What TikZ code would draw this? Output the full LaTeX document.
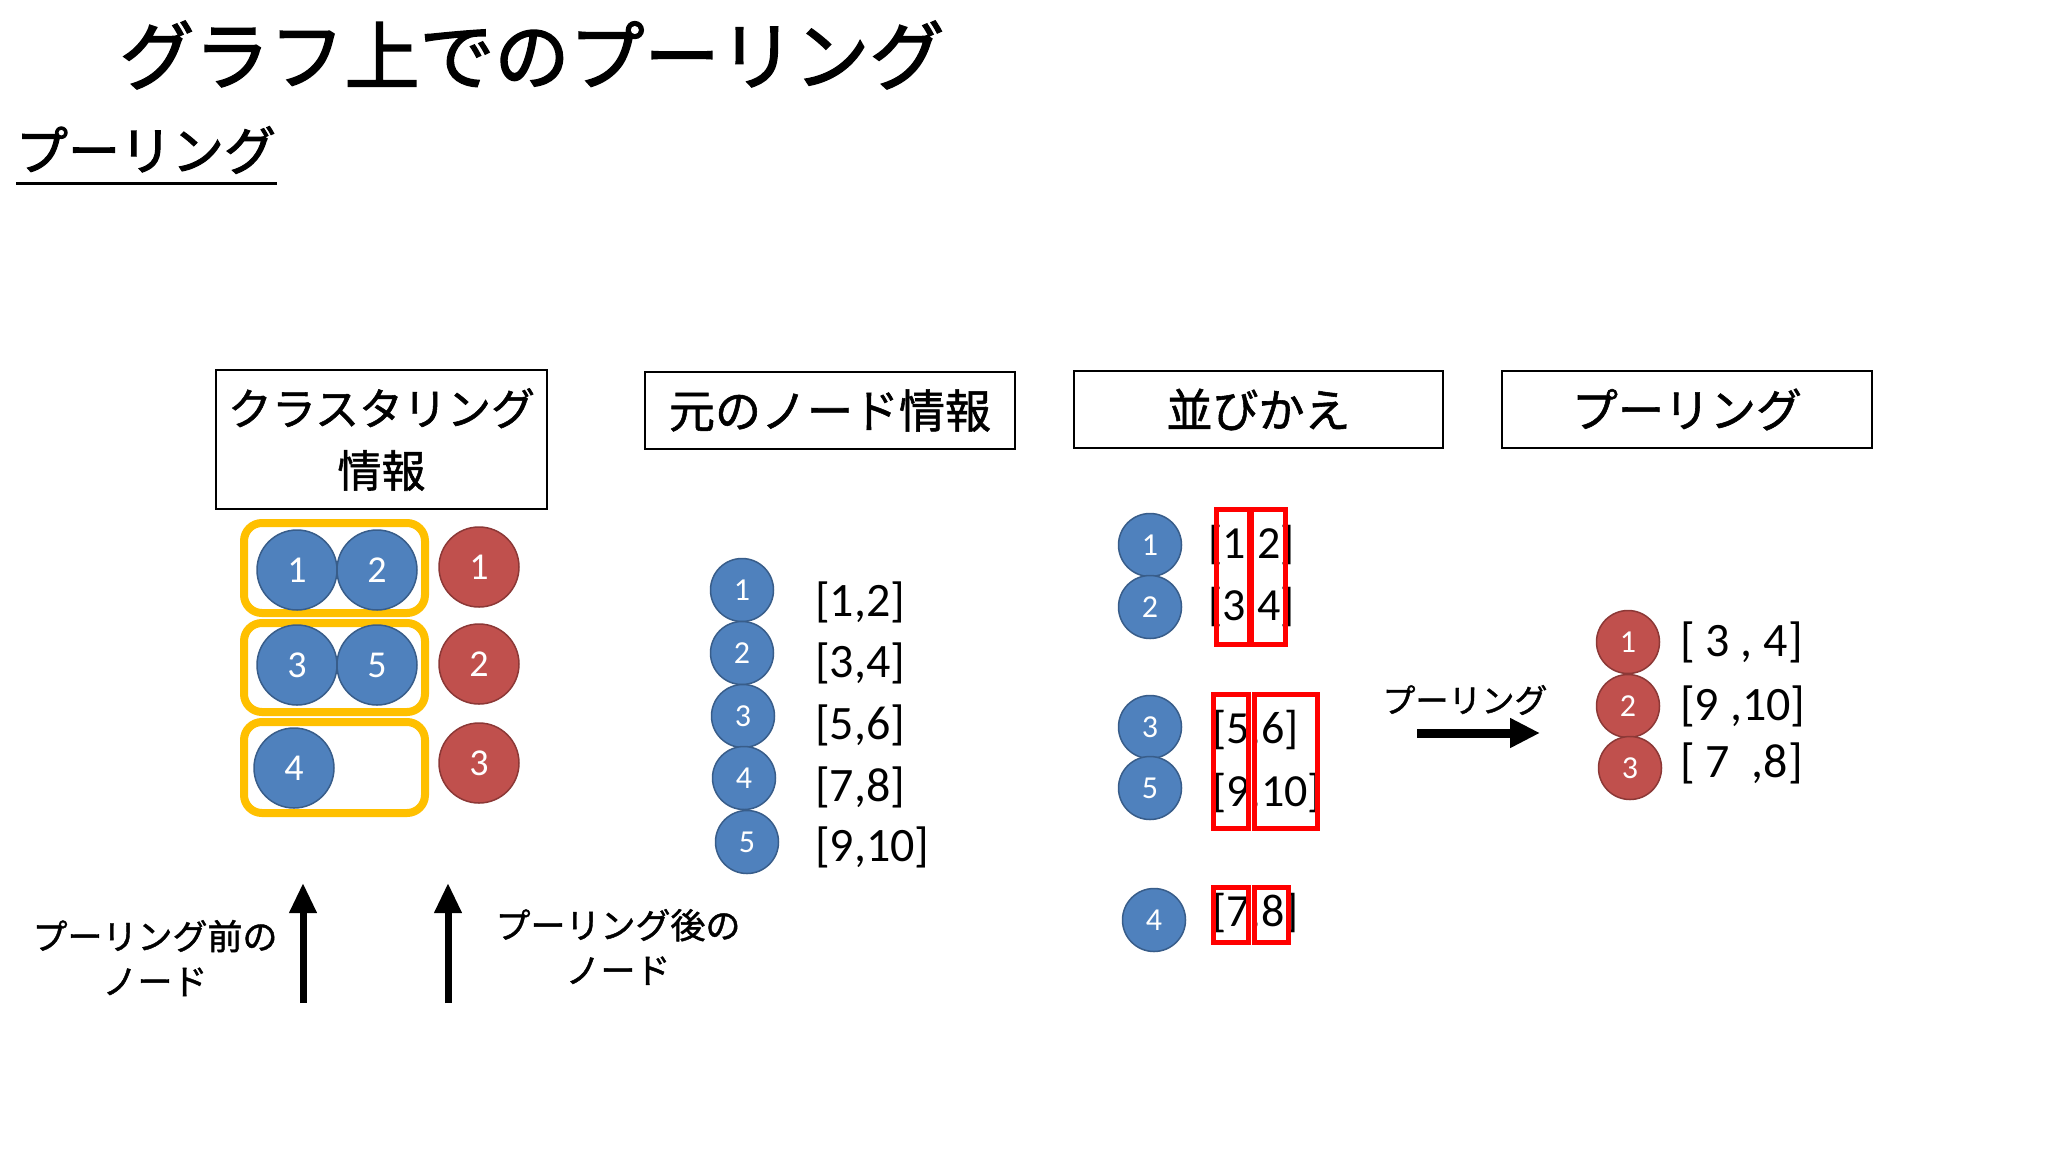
\documentclass[tikz,border=0pt]{standalone}
\usepackage{fontspec}
\newfontfamily\jp[FakeBold=1.2]{Noto Sans CJK JP}
\newfontfamily\jpt[FakeBold=2]{Noto Sans CJK JP}
\newfontfamily\num{Carlito}
\usetikzlibrary{arrows.meta}
\definecolor{nodeblue}{HTML}{4F81BD}
\definecolor{blueedge}{HTML}{385D8A}
\definecolor{nodered}{HTML}{C0504D}
\definecolor{rededge}{HTML}{8C3836}
\definecolor{clusterorange}{HTML}{FFC000}
\begin{document}
\begin{tikzpicture}[x=1pt,y=-1pt,
  bigblue/.style={circle,fill=nodeblue,draw=blueedge,line width=1.5pt,minimum size=80pt,inner sep=0pt,text=white,font=\num\fontsize{38}{38}\selectfont},
  bigred/.style={bigblue,fill=nodered,draw=rededge},
  smallblue/.style={circle,fill=nodeblue,draw=blueedge,line width=1.5pt,minimum size=63pt,inner sep=0pt,text=white,font=\num\fontsize{32}{32}\selectfont},
  smallred/.style={smallblue,fill=nodered,draw=rededge},
  vec/.style={anchor=west,inner sep=0pt,font=\num\fontsize{46}{46}\selectfont},
  hdr/.style={draw,line width=1.8pt,inner sep=0pt,align=center,font=\jp\fontsize{44}{62}\selectfont},
  cluster/.style={draw=clusterorange,line width=8pt,rounded corners=18pt,inner sep=0pt},
  redbox/.style={draw=red,line width=5pt},
  bigarrow/.style={line width=7pt,-{Triangle[width=26pt,length=30pt]}},
  lbl/.style={inner sep=0pt,align=center,font=\jp\fontsize{35}{45}\selectfont}]
\useasboundingbox[fill=white] (0,0) rectangle (2048,1152);

% titles
\node[inner sep=0pt,font=\jpt\fontsize{75}{75}\selectfont] (title) at (532,55) {グラフ上でのプーリング};
\node[inner sep=0pt,font=\jpt\fontsize{52}{52}\selectfont] (sub) at (146,150) {プーリング};
\coordinate (ul1) at (16,183);
\coordinate (ul2) at (277,183);
\draw[line width=3pt] (ul1) -- (ul2);

% header boxes
\node[hdr,minimum width=331pt,minimum height=139pt] (h1) at (381.5,439.5) {クラスタリング\\情報};
\node[hdr,minimum width=370pt,minimum height=77pt,font=\jp\fontsize{46}{46}\selectfont] (h2) at (830,410.5) {元のノード情報};
\node[hdr,minimum width=369pt,minimum height=77pt,font=\jp\fontsize{46}{46}\selectfont] (h3) at (1258.5,409.5) {並びかえ};
\node[hdr,minimum width=370pt,minimum height=77pt,font=\jp\fontsize{46}{46}\selectfont] (h4) at (1687,409.5) {プーリング};

% clustering
\node[cluster,minimum width=181pt,minimum height=90pt] (c1) at (334.5,568) {};
\node[cluster,minimum width=181pt,minimum height=89pt] (c2) at (334.5,667.5) {};
\node[cluster,minimum width=181pt,minimum height=91pt] (c3) at (334.5,767.5) {};
\node[bigblue] (b1) at (297,570) {1};
\node[bigblue] (b2) at (377,570) {2};
\node[bigblue] (b3) at (297,665) {3};
\node[bigblue] (b5) at (377,665) {5};
\node[bigblue] (b4) at (294,768) {4};
\node[bigred] (r1) at (479,567) {1};
\node[bigred] (r2) at (479,664) {2};
\node[bigred] (r3) at (479,763) {3};

% arrows and labels under clustering
\coordinate (a1s) at (303,1003);
\coordinate (a1e) at (303,883);
\coordinate (a2s) at (448,1003);
\coordinate (a2e) at (448,883);
\draw[bigarrow] (a1s) -- (a1e);
\draw[bigarrow] (a2s) -- (a2e);
\node[lbl] (lb1) at (155,958) {プーリング前の\\ノード};
\node[lbl] (lb2) at (618,947) {プーリング後の\\ノード};

% original node features
\node[smallblue] (m1) at (742,590) {1};
\node[smallblue] (m2) at (742,653) {2};
\node[smallblue] (m3) at (743,716) {3};
\node[smallblue] (m4) at (744,778) {4};
\node[smallblue] (m5) at (747,842) {5};
\node[vec,font=\num\fontsize{48}{48}\selectfont] (v1) at (815,602) {[1,2]};
\node[vec,font=\num\fontsize{48}{48}\selectfont] (v2) at (815,663) {[3,4]};
\node[vec,font=\num\fontsize{48}{48}\selectfont] (v3) at (815,725) {[5,6]};
\node[vec,font=\num\fontsize{48}{48}\selectfont] (v4) at (815,787) {[7,8]};
\node[vec,font=\num\fontsize{48}{48}\selectfont] (v5) at (815,847) {[9,10]};

% rearranged
\node[smallblue] (s1) at (1150,545) {1};
\node[smallblue] (s2) at (1150,607) {2};
\node[smallblue] (s3) at (1150,727) {3};
\node[smallblue] (s5) at (1150,788) {5};
\node[smallblue] (s4) at (1154,920) {4};
\node[vec] (w1) at (1208,545) {[1,2]};
\node[vec] (w2) at (1208,607) {[3,4]};
\node[vec] (w3) at (1212,730) {[5,6]};
\node[vec] (w5) at (1212,793) {[9,10]};
\node[vec] (w4) at (1212,913) {[7,8]};
\draw[redbox] (1216.5,509.5) rectangle (1249.5,644.5);
\draw[redbox] (1251.5,509.5) rectangle (1285.5,644.5);
\draw[redbox] (1213.5,694.5) rectangle (1248,828.5);
\draw[redbox] (1254,694.5) rectangle (1317.5,828.5);
\draw[redbox] (1213.5,887.5) rectangle (1248,942.5);
\draw[redbox] (1254,887.5) rectangle (1288.5,942.5);

% pooling arrow
\node[lbl,font=\jp\fontsize{33}{33}\selectfont] (pl) at (1465,700) {プーリング};
\coordinate (pa1) at (1417,733);
\coordinate (pa2) at (1540,733);
\draw[line width=9pt,-{Triangle[width=28pt,length=30pt]}] (pa1) -- (pa2);

% pooled result
\node[smallred] (p1) at (1628,642) {1};
\node[smallred] (p2) at (1628,706) {2};
\node[smallred] (p3) at (1630,768) {3};
\node[vec,font=\num\fontsize{48}{48}\selectfont] (q1) at (1680,642) {[ 3 , 4]};
\node[vec,font=\num\fontsize{48}{48}\selectfont] (q2) at (1680,706) {[9 ,10]};
\node[vec,font=\num\fontsize{48}{48}\selectfont] (q3) at (1680,763) {[ 7\ \ ,8]};
\end{tikzpicture}
\end{document}
